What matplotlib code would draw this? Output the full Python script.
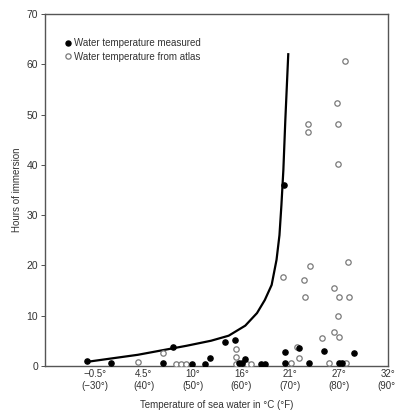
import matplotlib.pyplot as plt
from matplotlib.lines import Line2D

plt.rcParams["font.family"] = ["Liberation Sans", "DejaVu Sans"]

# x values are in degrees F, y values in hours
measuredTemp = [28.4, 33.4, 44.0, 46.0, 49.8, 52.6, 53.6, 56.6, 58.6, 59.6, 60.2, 60.8,
                64.0, 64.8, 69.0, 69.0, 68.8, 71.8, 73.8, 77.0, 80.0, 80.6, 83.0]
measuredHours = [1.0, 0.6, 0.6, 3.8, 0.4, 0.4, 1.6, 4.8, 5.2, 0.6, 0.6, 1.4,
                 0.4, 0.4, 2.8, 0.6, 36.0, 3.6, 0.6, 3.0, 0.6, 0.6, 2.6]

atlasTemp = [38.8, 44.0, 46.6, 47.6, 48.6, 58.8, 58.8, 58.8, 61.2, 62.0, 68.6,
             70.2, 71.4, 71.8, 72.8, 73.0, 74.0, 73.6, 73.6, 76.6, 78.0, 79.0,
             79.0, 80.0, 79.8, 80.0, 79.6, 79.8, 79.8, 81.2, 81.4, 81.8, 82.0]
atlasHours = [0.8, 2.6, 0.4, 0.4, 0.4, 3.4, 1.8, 0.4, 0.4, 0.4, 17.7,
              0.6, 3.8, 1.6, 17.1, 13.7, 19.9, 48.1, 46.5, 5.6, 0.6, 15.5,
              6.8, 5.8, 9.9, 13.7, 52.3, 48.1, 40.2, 60.6, 0.6, 20.7, 13.7]

# survival curve
curveTemp = [28.4, 38.8, 48.8, 53.8, 57.4, 60.8, 63.2, 64.8, 66.2, 67.2,
             67.8, 68.2, 68.6, 69.0, 69.6]
curveHours = [0.8, 2.2, 4.0, 5.0, 6.0, 8.0, 10.5, 13.1, 16.1, 21.1,
              26.0, 32.0, 39.0, 48.9, 62.0]

tickF = [30, 40, 50, 60, 70, 80, 90]
tickLabels = ["\u22120.5\u00b0\n(\u221230\u00b0)", "4.5\u00b0\n(40\u00b0)", "10\u00b0\n(50\u00b0)",
              "16\u00b0\n(60\u00b0)", "21\u00b0\n(70\u00b0)", "27\u00b0\n(80\u00b0)",
              "32\u00b0\n(90\u00b0)"]

fig = plt.figure(figsize=(3.95, 4.12), dpi=100)
ax = fig.add_axes([0.114, 0.112, 0.868, 0.854])

ax.plot(curveTemp, curveHours, color="black", lw=1.6, zorder=2)
ax.scatter(atlasTemp, atlasHours, s=15, facecolor="white", edgecolor="#7a7a7a",
           linewidth=0.9, zorder=3)
ax.scatter(measuredTemp, measuredHours, s=14, color="black", zorder=4)

ax.set_xlim(19.8, 88.4)
ax.set_ylim(0, 70)
ax.set_yticks(range(0, 71, 10))
ax.set_xticks(tickF)
ax.set_xticklabels(tickLabels, fontsize=7, color="#333333", linespacing=1.35)
ax.tick_params(axis="x", length=0, pad=2)
ax.tick_params(axis="y", length=3, width=0.6, labelsize=7.5, colors="#333333", pad=2)
for spine in ax.spines.values():
    spine.set_color("#555555")
    spine.set_linewidth(1.0)

ax.set_xlabel("Temperature of sea water in \u00b0C (\u00b0F)", fontsize=7, color="#333333", labelpad=6)
ax.set_ylabel("Hours of immersion", fontsize=7, color="#333333", labelpad=3)

handles = [
    Line2D([], [], ls="none", marker="o", markersize=3.6, color="black"),
    Line2D([], [], ls="none", marker="o", markersize=3.8, markerfacecolor="white",
           markeredgecolor="#7a7a7a", markeredgewidth=0.9),
]
ax.legend(handles, ["Water temperature measured", "Water temperature from atlas"],
          loc="upper left", bbox_to_anchor=(0.045, 0.945), frameon=False, fontsize=7,
          handlelength=0.6, handletextpad=0.3, labelspacing=0.35, borderpad=0,
          labelcolor="#333333")

fig.savefig("out.png", dpi=100)
